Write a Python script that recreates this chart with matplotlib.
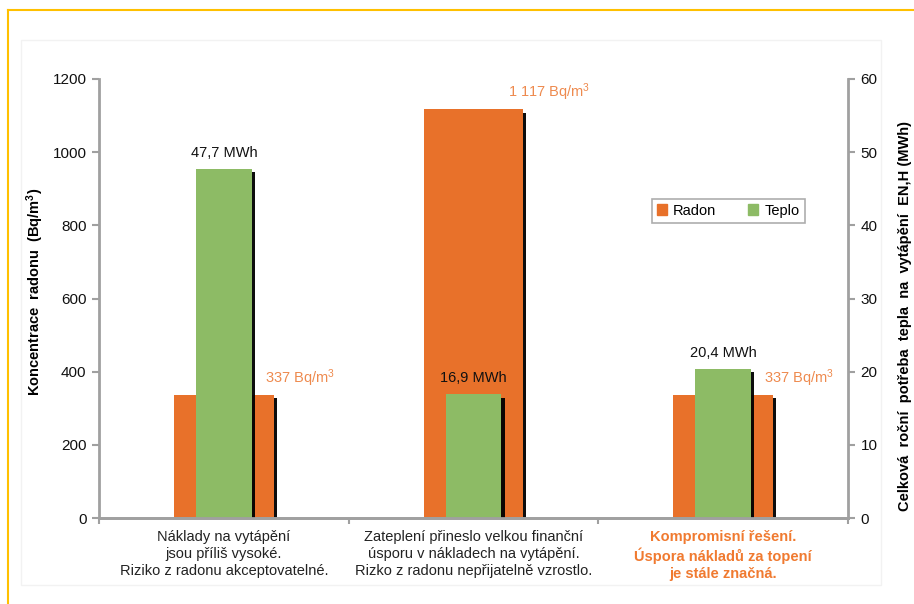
import matplotlib
matplotlib.use("Agg")
import matplotlib.pyplot as plt
import matplotlib.patheffects as pe
from matplotlib.lines import Line2D
from matplotlib.patches import Rectangle, Patch

plt.rcParams['font.family'] = ['Liberation Sans', 'DejaVu Sans']
plt.rcParams['mathtext.default'] = 'regular'

categories = [
    "Náklady na vytápění\njsou příliš vysoké.\nRiziko z radonu akceptovatelné.",
    "Zateplení přineslo velkou finanční\núsporu v nákladech na vytápění.\nRizko z radonu nepřijatelně vzrostlo.",
    "Kompromisní řešení.\nÚspora nákladů za topení\nje stále značná.",
]
radon = [337, 1117, 337]
teplo = [47.7, 16.9, 20.4]

orange = '#E8712A'
green = '#8DBB65'
grey = '#A0A0A0'

fig = plt.figure(figsize=(9.14, 6.04), dpi=100)
ax = fig.add_axes([99/914, 1 - 518/604, 749/914, 439/604])
ax2 = ax.twinx()

x = [i + 0.5 for i in range(len(categories))]
shadow = [pe.SimplePatchShadow(offset=(2.2, -2.5), shadow_rgbFace='black', alpha=0.95), pe.Normal()]

bars_r = ax.bar(x, radon, width=0.4, color=orange, path_effects=shadow, zorder=2)
bars_t = ax2.bar(x, teplo, width=0.224, color=green, path_effects=shadow, zorder=2)

ax.set_xlim(0, 3)
ax.set_ylim(0, 1200)
ax2.set_ylim(0, 60)
ax.set_yticks(range(0, 1201, 200))
ax2.set_yticks(range(0, 61, 10))

for xi, v in zip(x, radon):
    txt = f"{v:,}".replace(',', ' ') + " Bq/m$^3$"
    ax.annotate(txt, xy=(xi + 0.2, v), xytext=(26, 17), textcoords='offset pixels',
                ha='center', va='center', color='#EE8A4E', fontsize=10.5)
for xi, v in zip(x, teplo):
    txt = f"{v:.1f}".replace('.', ',') + " MWh"
    ax2.annotate(txt, xy=(xi, v), xytext=(0, 16), textcoords='offset pixels',
                 ha='center', va='center', color='#111111', fontsize=10.5)

ax.set_xticks([0, 1, 2, 3])
ax.set_xticklabels([])
ax.set_xticks(x, minor=True)
ax.set_xticklabels(categories, minor=True, fontsize=10.5, linespacing=1.25, color='#222222')
ax.tick_params(axis='x', which='minor', length=0, pad=9)
ax.tick_params(axis='x', which='major', length=4, color=grey, width=1.5)
labs = ax.get_xticklabels(minor=True)
labs[2].set_color('#F07A30')
labs[2].set_fontweight('bold')

for a in (ax, ax2):
    a.spines['top'].set_visible(False)
    for s in ('left', 'right', 'bottom'):
        a.spines[s].set_color(grey)
        a.spines[s].set_linewidth(2)
    a.tick_params(axis='y', length=5, width=1.5, color=grey, labelsize=11, labelcolor='#111111', pad=4)
ax.spines['right'].set_visible(False)
ax2.spines['left'].set_visible(False)

ax.set_ylabel("Koncentrace  radonu  (Bq/m$^3$)", fontsize=10.5, fontweight='bold',
              va='center', ha='center')
ax.yaxis.set_label_coords(-0.085, 0.515)
ax2.set_ylabel("Celková  roční  potřeba  tepla  na  vytápění  EN,H (MWh)", fontsize=10.5,
               fontweight='bold', rotation=90, va='center', ha='center')
ax2.yaxis.set_label_coords(1.076, 0.46)

handles = [Patch(color=orange, label='Radon'), Patch(color=green, label='Teplo')]
leg = ax2.legend(handles=handles, loc='center', bbox_to_anchor=(0.84, 0.70), ncol=2,
                 fontsize=10.5, frameon=True, fancybox=False, handlelength=0.7, handleheight=0.7,
                 columnspacing=2.2, handletextpad=0.4, borderpad=0.35)
leg.get_frame().set_edgecolor('#999999')
leg.get_frame().set_linewidth(1.2)

fig.add_artist(Rectangle((21/914, 1 - 585/604), 860/914, 545/604, transform=fig.transFigure,
                         fill=False, edgecolor='#F2F2F2', lw=1, zorder=0))
fig.add_artist(Line2D([8/914, 8/914], [0, 1 - 10/604], color='#FFC000', lw=1.5))
fig.add_artist(Line2D([8/914, 1], [1 - 10/604, 1 - 10/604], color='#FFC000', lw=1.5))

fig.savefig('out.png', dpi=100)
